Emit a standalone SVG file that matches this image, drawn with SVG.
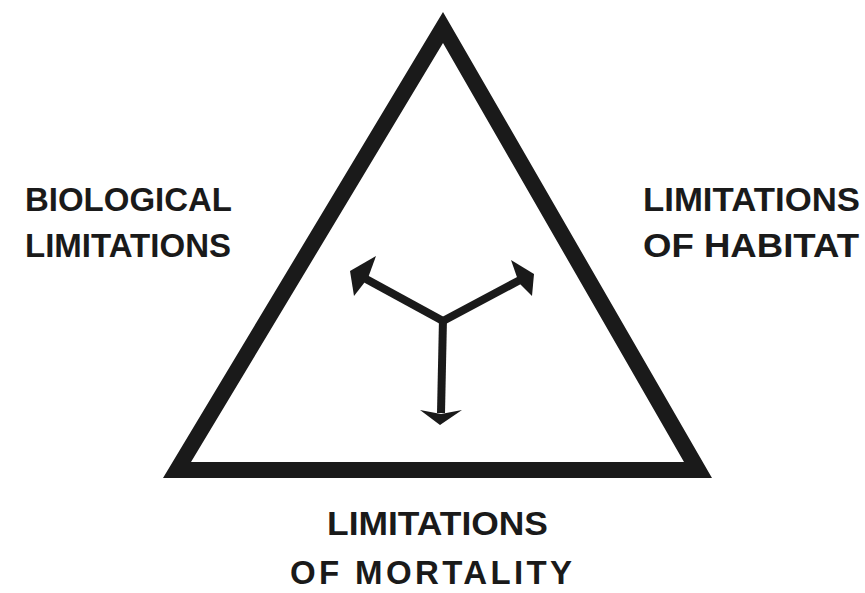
<svg xmlns="http://www.w3.org/2000/svg" width="865" height="593" viewBox="0 0 865 593">
<style>
.lbl{font-family:"Liberation Sans",Arial,sans-serif;font-size:33px;font-weight:bold;fill:#1a1a1a}
.shaft{stroke:#1a1a1a;stroke-width:8;stroke-linecap:butt;fill:none}
.head{fill:#1a1a1a}
</style>
<rect width="865" height="593" fill="#fff"/>
<g id="triangle">
<path d="M443,12 L712,478 L163,478 Z M443,43 L191,462 L684,462 Z" fill="#1a1a1a" fill-rule="evenodd"/>
</g>
<g id="connectors">
<line class="shaft" x1="443" y1="321" x2="366" y2="279"/>
<line class="shaft" x1="443" y1="321" x2="520" y2="280"/>
<line class="shaft" x1="443" y1="318" x2="441" y2="413"/>
<polygon class="head" points="350,271 376,256 368,278 354,296"/>
<polygon class="head" points="534,274 511,260 519,283 532,296"/>
<polygon class="head" points="440,425 420,410 441,414 462,410"/>
</g>
<g id="biological">
<text class="lbl" x="25" y="211" textLength="207" lengthAdjust="spacingAndGlyphs">BIOLOGICAL</text>
<text class="lbl" x="25" y="257" textLength="206" lengthAdjust="spacingAndGlyphs">LIMITATIONS</text>
</g>
<g id="habitat">
<text class="lbl" x="643" y="211" textLength="217" lengthAdjust="spacingAndGlyphs">LIMITATIONS</text>
<text class="lbl" x="643" y="257" textLength="216" lengthAdjust="spacingAndGlyphs">OF HABITAT</text>
</g>
<g id="mortality">
<text class="lbl" x="327" y="535" textLength="221" lengthAdjust="spacingAndGlyphs">LIMITATIONS</text>
<text class="lbl" x="290" y="584" textLength="282" lengthAdjust="spacing">OF  MORTALITY</text>
</g>
</svg>
